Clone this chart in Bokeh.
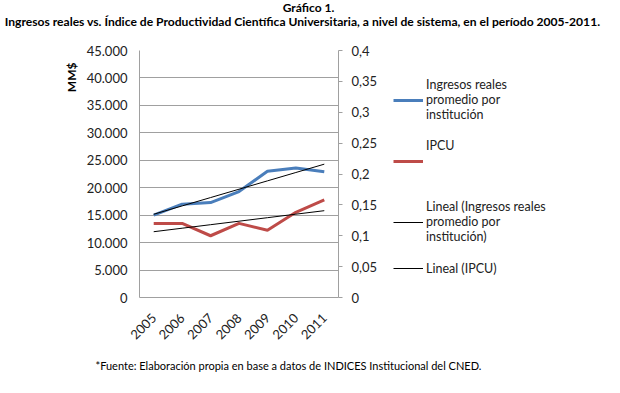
from bokeh.plotting import figure
from bokeh.models import (FactorRange, Range1d, LinearAxis, FixedTicker, CustomJSTickFormatter,
                          Legend, LegendItem, Title, Label, ColumnDataSource)
from bokeh.layouts import column, row
from bokeh.embed import file_html
from bokeh.resources import INLINE
import numpy as np
import math

years = ["2005", "2006", "2007", "2008", "2009", "2010", "2011"]
ingresos = [15000, 17000, 17300, 19300, 23000, 23600, 22900]
ipcu = [0.120, 0.120, 0.100, 0.120, 0.109, 0.138, 0.158]
left_ticks = [0, 5000, 10000, 15000, 20000, 25000, 30000, 35000, 40000, 45000]
right_ticks = [0, 0.05, 0.1, 0.15, 0.2, 0.25, 0.3, 0.35, 0.4]

title1 = "Gráfico 1."
title2 = "Ingresos reales vs. Índice de Productividad Científica Universitaria, a nivel de sistema, en el período 2005-2011."
footnote = "*Fuente: Elaboración propia en base a datos de INDICES Institucional del CNED."
y_label = "MM$"
lab_ing = "Ingresos reales\npromedio por\ninstitución"
lab_ipcu = "IPCU\n \n "
lab_lin_ing = "Lineal (Ingresos reales\npromedio por\ninstitución)"
lab_lin_ipcu = "Lineal (IPCU)"

# linear trends (least squares, as in the spreadsheet)
xi = np.arange(len(years))
a1, b1 = np.polyfit(xi, ingresos, 1)
a2, b2 = np.polyfit(xi, ipcu, 1)
trend_ing = list(a1 * xi + b1)
trend_ipcu = list(a2 * xi + b2)

FONT = "Lato"
BLUE = "#4A7EBB"
RED = "#BE4B48"
GRID = "#A0A0A0"
TXT = "#222222"

FW, FH = 199, 247
TOP, BOTTOM = 15, 55


def blank(w, h, **kw):
    f = figure(width=w, height=h, x_range=Range1d(0, 1), y_range=Range1d(0, 1),
               x_axis_location=None, y_axis_location=None, min_border=0,
               title_location=None, output_backend="svg", toolbar_location=None, **kw)
    f.grid.visible = False
    f.outline_line_color = None
    return f


# ---- title strip ----
pt = blank(604, 35)
pt.add_layout(Label(x=308, y=28, x_units="screen", y_units="screen", text=title1,
                    text_font=FONT, text_font_style="bold", text_font_size="12px",
                    text_align="center", text_baseline="middle", text_color="black"))
pt.add_layout(Label(x=302, y=14, x_units="screen", y_units="screen", text=title2,
                    text_font=FONT, text_font_style="bold", text_font_size="12.1px",
                    text_align="center", text_baseline="middle", text_color="black"))

# ---- main chart ----
p = figure(x_range=FactorRange(*years), y_range=Range1d(0, 45000),
           frame_width=FW, frame_height=FH, title_location=None,
           min_border_left=139, min_border_right=44, min_border_top=TOP, min_border_bottom=BOTTOM,
           output_backend="svg", toolbar_location=None)
p.extra_y_ranges = {"right": Range1d(0, 0.4)}
p.outline_line_color = None
p.background_fill_color = "white"

p.yaxis.ticker = FixedTicker(ticks=left_ticks)
p.yaxis.formatter = CustomJSTickFormatter(code="""
return Math.round(tick).toString().replace(/\\B(?=(\\d{3})+(?!\\d))/g, '.');
""")
p.yaxis.major_tick_out = 0
p.yaxis.major_tick_in = 0
p.yaxis.minor_tick_out = 0
p.yaxis.minor_tick_in = 0
p.yaxis.axis_line_color = GRID
p.yaxis.major_label_standoff = 12
p.yaxis.major_label_text_font = FONT
p.yaxis.major_label_text_font_size = "13px"
p.yaxis.major_label_text_color = TXT

p.ygrid.ticker = FixedTicker(ticks=left_ticks)
p.ygrid.grid_line_color = GRID
p.xgrid.grid_line_color = None

p.xaxis.major_tick_out = 0
p.xaxis.major_tick_in = 0
p.xaxis.axis_line_color = GRID
p.xaxis.major_label_orientation = math.pi / 4
p.xaxis.major_label_text_font = FONT
p.xaxis.major_label_text_font_size = "13px"
p.xaxis.major_label_text_color = TXT
p.xaxis.major_label_standoff = 18

ra = LinearAxis(y_range_name="right", ticker=FixedTicker(ticks=right_ticks))
ra.formatter = CustomJSTickFormatter(code="""
return parseFloat(tick.toFixed(2)).toString().replace('.', ',');
""")
ra.major_tick_out = 4
ra.major_tick_in = 0
ra.minor_tick_out = 0
ra.minor_tick_in = 0
ra.axis_line_color = GRID
ra.major_tick_line_color = GRID
ra.major_label_standoff = 9
ra.major_label_text_font = FONT
ra.major_label_text_font_size = "13px"
ra.major_label_text_color = TXT
p.add_layout(ra, "right")

src = ColumnDataSource(dict(x=years, ing=ingresos, ipcu=ipcu, t1=trend_ing, t2=trend_ipcu))
p.line("x", "ing", source=src, line_color=BLUE, line_width=3)
p.line("x", "ipcu", source=src, line_color=RED, line_width=3, y_range_name="right")
p.line("x", "t1", source=src, line_color="black", line_width=1)
p.line("x", "t2", source=src, line_color="black", line_width=1, y_range_name="right")

yl = Title(text=y_label, align="right", offset=12, standoff=10,
           text_font=FONT, text_font_style="bold", text_font_size="12px", text_color="black")
p.add_layout(yl, "left")

# ---- legend panel (same series, drawn outside its own view so only the legend shows) ----
p2 = figure(x_range=Range1d(0, 1), y_range=Range1d(-2, -1),
            frame_width=222, frame_height=FH, title_location=None,
            x_axis_location=None, y_axis_location=None,
            min_border_left=0, min_border_right=0, min_border_top=TOP, min_border_bottom=BOTTOM,
            output_backend="svg", toolbar_location=None)
p2.grid.visible = False
p2.outline_line_color = None
lsrc = ColumnDataSource(dict(x=list(xi), ing=ingresos, ipcu=ipcu, t1=trend_ing, t2=trend_ipcu))
g1 = p2.line("x", "ing", source=lsrc, line_color=BLUE, line_width=3)
g2 = p2.line("x", "ipcu", source=lsrc, line_color=RED, line_width=3)
g3 = p2.line("x", "t1", source=lsrc, line_color="black", line_width=1)
g4 = p2.line("x", "t2", source=lsrc, line_color="black", line_width=1)
legend = Legend(items=[LegendItem(label=lab_ing, renderers=[g1]),
                       LegendItem(label=lab_ipcu, renderers=[g2]),
                       LegendItem(label=lab_lin_ing, renderers=[g3]),
                       LegendItem(label=lab_lin_ipcu, renderers=[g4])],
                location=(11, 21), padding=0, margin=0, spacing=16,
                border_line_color=None, background_fill_alpha=0,
                glyph_width=30, glyph_height=16, label_standoff=3,
                label_text_font=FONT, label_text_font_size="12.5px", label_text_color=TXT,
                label_text_line_height=1.45)
p2.add_layout(legend, "center")

# ---- footnote strip ----
pb = blank(604, 25)
pb.add_layout(Label(x=95, y=12, x_units="screen", y_units="screen", text=footnote,
                    text_font=FONT, text_font_size="11px",
                    text_align="left", text_baseline="middle", text_color="black"))

layout = column(pt, row(p, p2), pb)
open("out.html", "w").write(file_html(layout, INLINE))
